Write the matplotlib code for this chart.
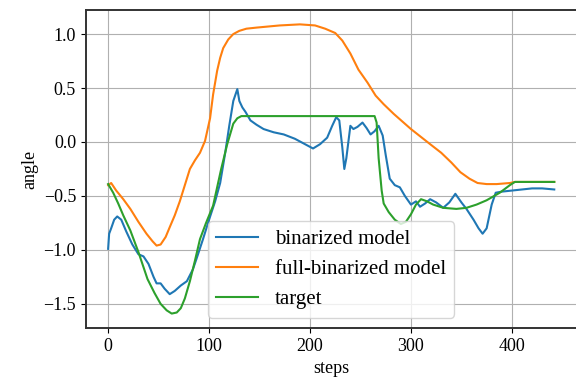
import matplotlib
matplotlib.use("Agg")
import matplotlib.pyplot as plt

plt.rcParams["font.family"] = ["Liberation Serif", "DejaVu Serif"]
plt.rcParams["mathtext.fontset"] = "stix"

# binarized model
bin_x = [0, 1, 3, 6, 9, 13, 18, 24, 30, 35, 40, 45, 48, 52, 56, 61, 66, 72, 78, 84,
         88, 94, 100, 106, 111, 116, 120, 124, 128, 130, 133, 136, 141, 147, 154, 164,
         174, 185, 195, 203, 210, 217, 222, 226, 229, 232, 234, 236, 240, 243, 247, 252,
         256, 260, 264, 268, 272, 275, 279, 284, 289, 294, 300, 305, 309, 314, 319, 325,
         332, 338, 344, 350, 355, 362, 367, 371, 375, 380, 384, 390, 400, 410, 420, 430, 442]
bin_y = [-0.99, -0.85, -0.80, -0.72, -0.69, -0.72, -0.83, -0.95, -1.04, -1.06, -1.13,
         -1.25, -1.31, -1.31, -1.36, -1.41, -1.38, -1.33, -1.29, -1.18, -1.07, -0.90,
         -0.72, -0.55, -0.38, -0.10, 0.15, 0.38, 0.49, 0.38, 0.32, 0.28, 0.20, 0.16,
         0.12, 0.09, 0.07, 0.03, -0.02, -0.06, -0.02, 0.04, 0.15, 0.23, 0.20, -0.05,
         -0.25, -0.15, 0.15, 0.12, 0.14, 0.18, 0.13, 0.07, 0.10, 0.15, 0.06, -0.12,
         -0.34, -0.40, -0.42, -0.50, -0.58, -0.55, -0.60, -0.57, -0.53, -0.56, -0.61,
         -0.56, -0.48, -0.56, -0.62, -0.72, -0.80, -0.85, -0.80, -0.58, -0.47, -0.46,
         -0.45, -0.44, -0.43, -0.43, -0.44]

# full-binarized model
full_x = [0, 3, 8, 15, 22, 30, 38, 44, 48, 52, 57, 61, 66, 71, 76, 81, 86, 91, 96, 101,
          104, 108, 111, 114, 119, 124, 130, 137, 147, 170, 190, 205, 215, 225, 232, 240,
          248, 257, 265, 273, 283, 300, 319, 330, 340, 349, 358, 366, 375, 385, 398, 403, 442]
full_y = [-0.40, -0.38, -0.45, -0.53, -0.62, -0.74, -0.85, -0.92, -0.96, -0.95, -0.88,
          -0.79, -0.68, -0.55, -0.40, -0.25, -0.17, -0.10, 0.01, 0.22, 0.44, 0.66,
          0.78, 0.87, 0.95, 1.00, 1.03, 1.05, 1.06, 1.08, 1.09, 1.08, 1.05, 1.01, 0.94,
          0.82, 0.67, 0.55, 0.43, 0.35, 0.26, 0.12, -0.02, -0.10, -0.19, -0.28, -0.34,
          -0.38, -0.39, -0.39, -0.38, -0.37, -0.37]

# target
tgt_x = [0, 5, 10, 15, 22, 30, 39, 46, 52, 58, 63, 68, 72, 76, 81, 86, 91, 97, 104, 108,
         112, 118, 124, 128, 132, 140, 264, 266, 268, 271, 273, 278, 284, 290, 295, 300,
         305, 310, 316, 322, 332, 345, 355, 365, 375, 388, 398, 403, 442]
tgt_y = [-0.39, -0.47, -0.57, -0.68, -0.82, -1.02, -1.27, -1.40, -1.50, -1.56, -1.59,
         -1.58, -1.54, -1.45, -1.29, -1.10, -0.90, -0.75, -0.59, -0.42, -0.25, -0.02,
         0.17, 0.22, 0.24, 0.24, 0.24, 0.18, -0.15, -0.45, -0.57, -0.65, -0.72, -0.76,
         -0.74, -0.67, -0.58, -0.53, -0.55, -0.58, -0.61, -0.62, -0.61, -0.58, -0.54,
         -0.47, -0.40, -0.37, -0.37]

fig = plt.figure(figsize=(5.76, 3.81), dpi=100)
ax = fig.add_axes([0.149, 0.139, 0.852, 0.835])

ax.plot(bin_x, bin_y, label="binarized model")
ax.plot(full_x, full_y, label="full-binarized model")
ax.plot(tgt_x, tgt_y, label="target")

ax.set_xlabel("steps", fontsize=13)
ax.set_ylabel("angle", fontsize=13)
ax.tick_params(labelsize=13)
for sp in ax.spines.values():
    sp.set_linewidth(1.4)
    sp.set_color("#333333")
ax.grid(True)
ax.legend(loc="lower center", fontsize=15)

fig.savefig("out.png", dpi=100)
